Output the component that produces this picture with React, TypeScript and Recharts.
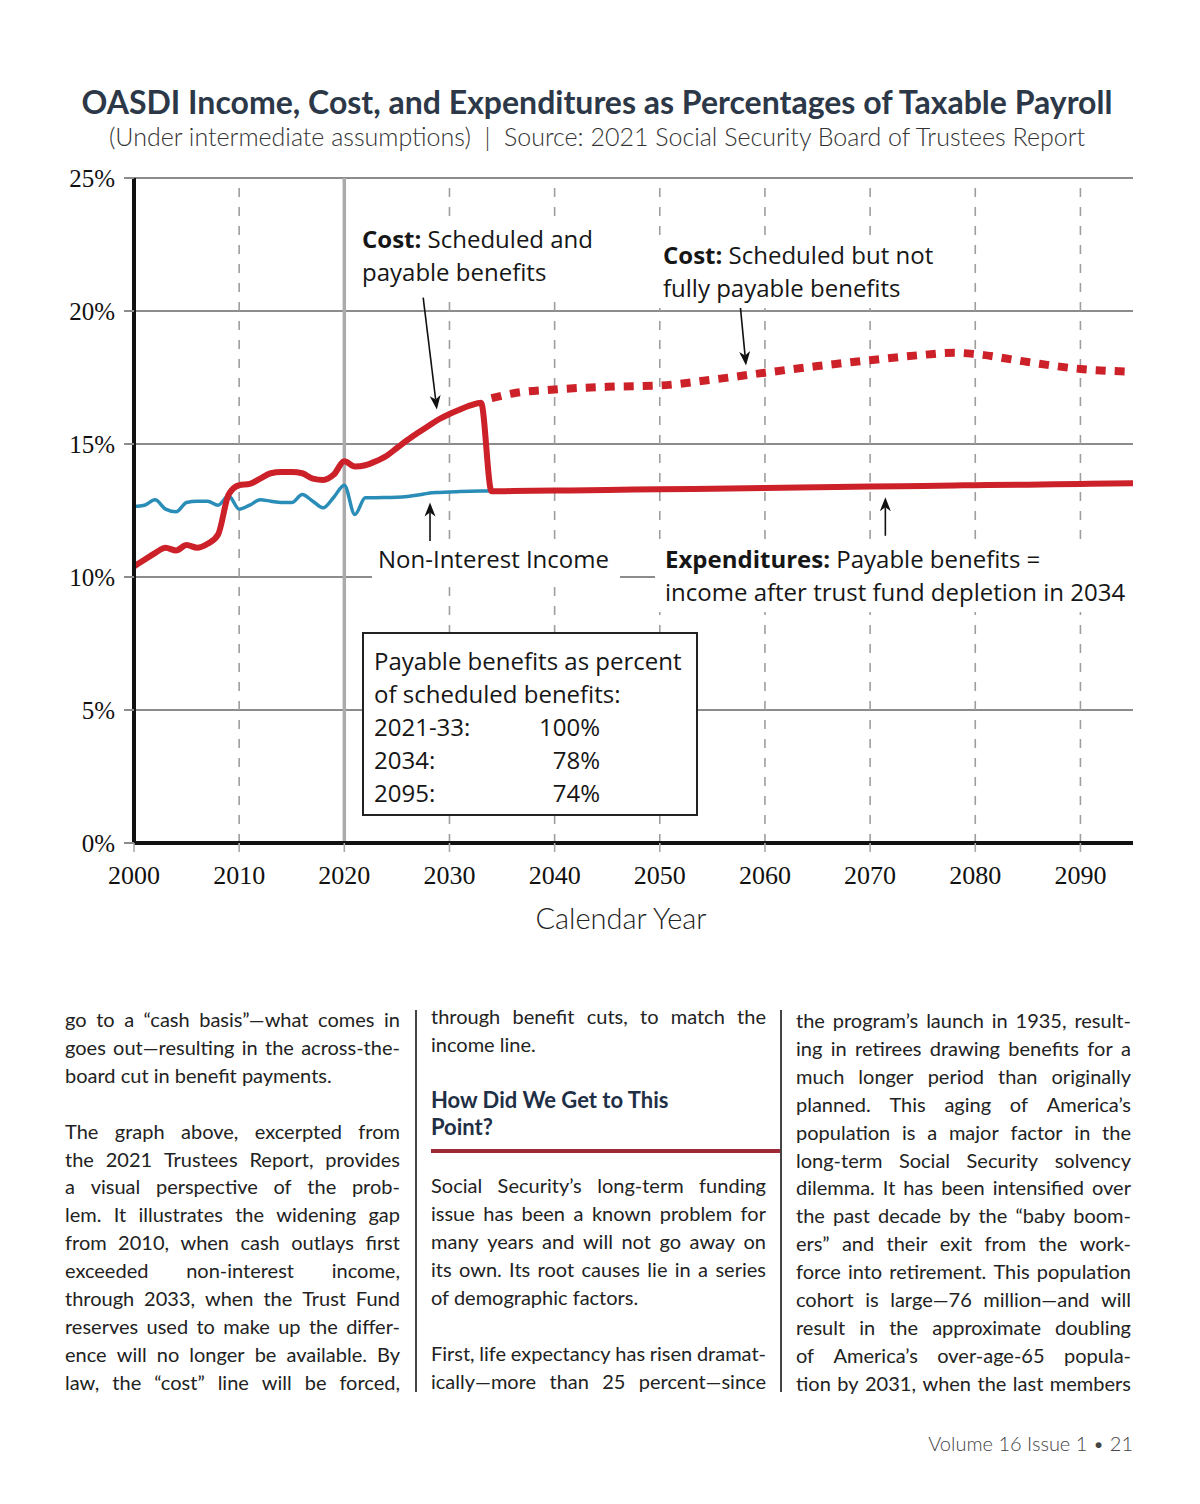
import { LineChart, Line, XAxis, YAxis, CartesianGrid, ReferenceLine } from 'recharts'

// historical + near-term years (annual)
const costYears = [2000, 2001, 2002, 2003, 2004, 2005, 2006, 2007, 2008, 2009, 2010, 2011, 2012, 2013, 2014, 2015, 2016, 2017, 2018, 2019, 2020, 2021, 2022, 2023, 2024, 2025, 2026, 2027, 2028, 2029, 2030, 2031, 2032, 2033]
const costValues = [10.4, 10.65, 10.9, 11.1, 11.0, 11.2, 11.1, 11.25, 11.6, 13.1, 13.45, 13.5, 13.7, 13.9, 13.95, 13.95, 13.9, 13.7, 13.65, 13.85, 14.35, 14.15, 14.2, 14.35, 14.55, 14.85, 15.15, 15.42, 15.68, 15.93, 16.13, 16.3, 16.45, 16.55]

const incomeYears = [2000, 2001, 2002, 2003, 2004, 2005, 2006, 2007, 2008, 2009, 2010, 2011, 2012, 2013, 2014, 2015, 2016, 2017, 2018, 2019, 2020, 2021, 2022, 2023, 2024, 2025, 2026, 2027, 2028, 2029, 2030, 2031, 2032, 2033, 2034]
const incomeValues = [12.65, 12.7, 12.9, 12.55, 12.45, 12.8, 12.85, 12.85, 12.7, 13.05, 12.55, 12.7, 12.9, 12.85, 12.8, 12.8, 13.1, 12.85, 12.6, 13.0, 13.45, 12.35, 12.98, 12.98, 12.99, 13.0, 13.03, 13.08, 13.15, 13.18, 13.2, 13.21, 13.22, 13.23, 13.24]

// projections after trust fund depletion
const projYears = [2034, 2036, 2040, 2045, 2050, 2055, 2060, 2065, 2070, 2075, 2078, 2080, 2085, 2090, 2095]
const expenditureValues = [13.22, 13.23, 13.25, 13.27, 13.3, 13.32, 13.35, 13.37, 13.4, 13.42, 13.44, 13.45, 13.47, 13.5, 13.52]
const scheduledValues = [16.72, 16.9, 17.05, 17.15, 17.2, 17.42, 17.68, 17.93, 18.15, 18.35, 18.43, 18.38, 18.08, 17.82, 17.72]

const xTicks = [2000, 2010, 2020, 2030, 2040, 2050, 2060, 2070, 2080, 2090]
const dashedYears = [2010, 2030, 2040, 2050, 2060, 2070, 2080, 2090]
const yTicks = [0, 5, 10, 15, 20, 25]

// annotation pointers (data coords)
const arrowSegments = [
  [{ x: 2027.5, y: 20.5 }, { x: 2028.8, y: 16.3 }],
  [{ x: 2057.65, y: 20.2 }, { x: 2058.2, y: 17.95 }],
  [{ x: 2028.15, y: 11.35 }, { x: 2028.15, y: 12.8 }],
  [{ x: 2071.45, y: 11.55 }, { x: 2071.45, y: 13.0 }]
]

const payableRows = [
  ['2021-33:', '100%'],
  ['2034:', '78%'],
  ['2095:', '74%']
]

// '|' marks the last line of a paragraph (not justified)
const col1 = [
  'go to a “cash basis”—what comes in',
  'goes out—resulting in the across-the-',
  'board cut in benefit payments.|',
  '',
  'The graph above, excerpted from',
  'the 2021 Trustees Report, provides',
  'a visual perspective of the prob-',
  'lem. It illustrates the widening gap',
  'from 2010, when cash outlays first',
  'exceeded non-interest income,',
  'through 2033, when the Trust Fund',
  'reserves used to make up the differ-',
  'ence will no longer be available. By',
  'law, the “cost” line will be forced,'
]
const col2top = ['through benefit cuts, to match the', 'income line.|']
const col2body = [
  'Social Security’s long-term funding',
  'issue has been a known problem for',
  'many years and will not go away on',
  'its own. Its root causes lie in a series',
  'of demographic factors.|',
  '',
  'First, life expectancy has risen dramat-',
  'ically—more than 25 percent—since'
]
const col3 = [
  'the program’s launch in 1935, result-',
  'ing in retirees drawing benefits for a',
  'much longer period than originally',
  'planned. This aging of America’s',
  'population is a major factor in the',
  'long-term Social Security solvency',
  'dilemma. It has been intensified over',
  'the past decade by the “baby boom-',
  'ers” and their exit from the work-',
  'force into retirement. This population',
  'cohort is large—76 million—and will',
  'result in the approximate doubling',
  'of America’s over-age-65 popula-',
  'tion by 2031, when the last members'
]

const rowMap = new Map<number, any>()
const row = (y: number) => {
  if (!rowMap.has(y)) rowMap.set(y, { year: y })
  return rowMap.get(y)
}
costYears.forEach((y, i) => (row(y).payable = costValues[i]))
incomeYears.forEach((y, i) => (row(y).income = incomeValues[i]))
projYears.forEach((y, i) => {
  row(y).payable = expenditureValues[i]
  row(y).scheduled = scheduledValues[i]
})
const data = Array.from(rowMap.values()).sort((a, b) => a.year - b.year)

const RED = '#cc2129'
const BLUE = '#2a8db8'
const SANS = '"Open Sans", sans-serif'
const BODY = 'Lato, sans-serif'
const SERIF = '"Liberation Serif", serif'

const Arrow = (props: any) => {
  const { x1, y1, x2, y2 } = props
  const ang = Math.atan2(y2 - y1, x2 - x1)
  const len = 14
  const half = 5.5
  const bx = x2 - len * Math.cos(ang)
  const by = y2 - len * Math.sin(ang)
  const px = -Math.sin(ang) * half
  const py = Math.cos(ang) * half
  const nx = x2 - (len - 4) * Math.cos(ang)
  const ny = y2 - (len - 4) * Math.sin(ang)
  return (
    <g>
      <line x1={x1} y1={y1} x2={nx} y2={ny} stroke='#111' strokeWidth={1.6} />
      <polygon points={`${x2},${y2} ${bx + px},${by + py} ${nx},${ny} ${bx - px},${by - py}`} fill='#111' />
    </g>
  )
}

const TextLines = ({ lines, left, top, lh }: { lines: string[]; left: number; top: number; lh: number }) => (
  <div style={{ position: 'absolute', left, top, width: 335, fontFamily: BODY, fontSize: 20, color: '#222' }}>
    {lines.map((l, i) => {
      const last = l.endsWith('|')
      const text = last ? l.slice(0, -1) : l
      if (!text) return <div key={i} style={{ height: lh }} />
      if (last)
        return (
          <div key={i} style={{ height: lh, lineHeight: `${lh}px`, whiteSpace: 'nowrap' }}>
            {text}
          </div>
        )
      return (
        <div key={i} style={{ height: lh, lineHeight: `${lh}px`, display: 'flex', justifyContent: 'space-between', whiteSpace: 'nowrap' }}>
          {text.split(' ').map((w, j) => (
            <span key={j}>{w}</span>
          ))}
        </div>
      )
    })}
  </div>
)

const label: React.CSSProperties = {
  position: 'absolute',
  background: '#fff',
  fontFamily: SANS,
  fontSize: 24,
  lineHeight: '33px',
  color: '#161616',
  whiteSpace: 'nowrap'
}

export default function App() {
  return (
    <div style={{ position: 'relative', width: 1200, height: 1504, margin: -8, background: '#fff', overflow: 'hidden' }}>
      <div style={{ position: 'absolute', left: 0, top: 82, width: 1194, textAlign: 'center', fontFamily: BODY, fontWeight: 700, fontSize: 32, lineHeight: '40px', color: '#2c3848' }}>
        OASDI Income, Cost, and Expenditures as Percentages of Taxable Payroll
      </div>
      <div style={{ position: 'absolute', left: 0, top: 121, width: 1194, textAlign: 'center', fontFamily: BODY, fontWeight: 300, fontSize: 25, lineHeight: '30px', color: '#333', whiteSpace: 'pre' }}>
        {'(Under intermediate assumptions)  |  Source: 2021 Social Security Board of Trustees Report'}
      </div>

      <div style={{ position: 'absolute', left: 0, top: 0 }}>
        <LineChart width={1200} height={960} data={data} margin={{ top: 178, right: 67, bottom: 67, left: 74 }}>
          <CartesianGrid vertical={false} stroke='#8c8c8c' strokeWidth={2} />
          {dashedYears.map((y) => (
            <ReferenceLine key={y} x={y} stroke='#9e9e9e' strokeWidth={1.6} strokeDasharray='9 10' />
          ))}
          <ReferenceLine x={2020} stroke='#ababab' strokeWidth={3.5} />
          <XAxis
            dataKey='year'
            type='number'
            domain={[2000, 2095]}
            ticks={xTicks}
            interval={0}
            allowDataOverflow
            height={50}
            axisLine={{ stroke: '#111', strokeWidth: 4 }}
            tickLine={{ stroke: '#aaa', strokeWidth: 1.6 }}
            tickSize={9}
            tickMargin={14}
            tick={{ fill: '#111', fontSize: 26, fontFamily: SERIF }}
          />
          <YAxis
            type='number'
            domain={[0, 25]}
            ticks={yTicks}
            interval={0}
            width={60}
            tickFormatter={(v) => `${v}%`}
            axisLine={{ stroke: '#111', strokeWidth: 4 }}
            tickLine={{ stroke: '#8c8c8c', strokeWidth: 2 }}
            tickSize={10}
            tickMargin={9}
            tick={{ fill: '#111', fontSize: 25, fontFamily: SERIF }}
          />
          <Line dataKey='income' type='monotone' stroke={BLUE} strokeWidth={3.5} dot={false} isAnimationActive={false} />
          <Line dataKey='scheduled' type='monotone' stroke={RED} strokeWidth={8} strokeDasharray='10 9' dot={false} isAnimationActive={false} />
          <Line dataKey='payable' type='monotone' stroke={RED} strokeWidth={6} dot={false} isAnimationActive={false} strokeLinejoin='miter' />
          {arrowSegments.map((s, i) => (
            <ReferenceLine key={i} segment={s} shape={Arrow} />
          ))}
        </LineChart>
      </div>

      <div style={{ ...label, left: 358, top: 222, paddingLeft: 4, paddingRight: 8, paddingBottom: 4 }}>
        <b>Cost:</b> Scheduled and
        <br />
        payable benefits
      </div>
      <div style={{ ...label, left: 659, top: 238, paddingLeft: 4, paddingRight: 8, paddingBottom: 4 }}>
        <b>Cost:</b> Scheduled but not
        <br />
        fully payable benefits
      </div>
      <div style={{ ...label, left: 372, top: 542, width: 248, height: 39, paddingLeft: 6, boxSizing: 'border-box' }}>
        Non-Interest Income
      </div>
      <div style={{ ...label, left: 655, top: 542, width: 478, paddingLeft: 10, paddingBottom: 4, boxSizing: 'border-box' }}>
        <b>Expenditures:</b> Payable benefits =
        <br />
        income after trust fund depletion in 2034
      </div>
      <div
        style={{
          ...label,
          left: 362,
          top: 632,
          width: 336,
          height: 184,
          boxSizing: 'border-box',
          border: '2px solid #222',
          paddingLeft: 10,
          paddingTop: 10
        }}
      >
        <div>Payable benefits as percent</div>
        <div>of scheduled benefits:</div>
        {payableRows.map((r) => (
          <div key={r[0]} style={{ display: 'flex' }}>
            <span style={{ width: 150 }}>{r[0]}</span>
            <span style={{ width: 76, textAlign: 'right' }}>{r[1]}</span>
          </div>
        ))}
      </div>

      <div style={{ position: 'absolute', left: 471, top: 901, width: 300, textAlign: 'center', fontFamily: BODY, fontWeight: 300, fontSize: 29, lineHeight: '34px', color: '#222' }}>
        Calendar Year
      </div>

      <TextLines lines={col1} left={65} top={1006} lh={27.92} />
      <TextLines lines={col2top} left={431} top={1003} lh={27.5} />
      <div style={{ position: 'absolute', left: 431, top: 1086, fontFamily: BODY, fontWeight: 700, fontSize: 22, lineHeight: '27px', color: '#1f2f45' }}>
        How Did We Get to This
        <br />
        Point?
      </div>
      <div style={{ position: 'absolute', left: 431, top: 1149, width: 350, height: 4, background: '#9e2a36' }} />
      <TextLines lines={col2body} left={431} top={1171} lh={28} />
      <TextLines lines={col3} left={796} top={1007} lh={27.92} />

      <div style={{ position: 'absolute', left: 415, top: 1010, width: 1.5, height: 382, background: '#444' }} />
      <div style={{ position: 'absolute', left: 780, top: 1010, width: 1.5, height: 382, background: '#444' }} />

      <div style={{ position: 'absolute', right: 67, top: 1430, fontFamily: BODY, fontWeight: 300, fontSize: 20, lineHeight: '26px', color: '#444' }}>
        Volume 16 Issue 1 • 21
      </div>
    </div>
  )
}
